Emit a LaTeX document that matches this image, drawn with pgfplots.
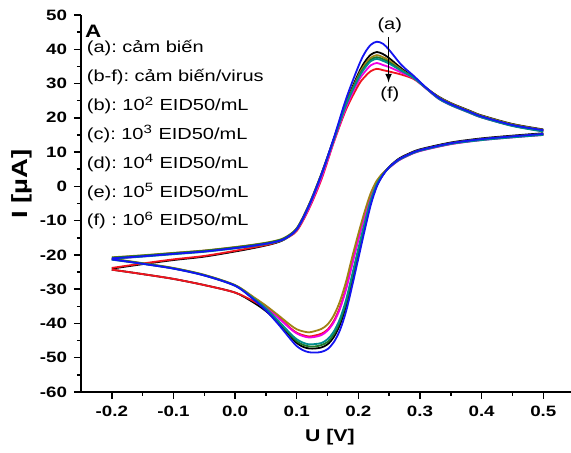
\documentclass[border=0pt]{standalone}
\usepackage{fontspec}
\setmainfont{Liberation Sans}[FakeStretch=1.25]
\usepackage{pgfplots}
\usepackage{pgfplotstable}
\pgfplotsset{compat=1.18}
\frenchspacing

\definecolor{cvblk}{RGB}{0,0,0}
\definecolor{cvblu}{RGB}{20,20,240}
\definecolor{cvolv}{RGB}{160,130,20}
\definecolor{cvgrn}{RGB}{30,120,40}
\definecolor{cvtea}{RGB}{0,140,140}
\definecolor{cvmag}{RGB}{240,0,230}
\definecolor{cvred}{RGB}{240,20,30}

% forward scan (-0.2 -> 0.5)
\pgfplotstableread{
x     blk    blu    olv    grn    tea    mag    red
-0.20 -24.0  -21.0  -20.7  -20.8  -21.1  -21.2  -23.8
-0.15 -22.7  -20.4  -20.1  -20.2  -20.5  -20.4  -22.5
-0.10 -21.5  -19.7  -19.4  -19.5  -19.8  -19.5  -21.3
-0.05 -20.5  -19.0  -18.7  -18.8  -19.1  -18.8  -20.3
0.00  -19.0  -18.0  -17.7  -17.8  -18.1  -17.8  -18.8
0.03  -18.0  -17.3  -17.0  -17.1  -17.4  -17.1  -17.8
0.06  -16.8  -16.4  -16.1  -16.2  -16.5  -16.3  -16.7
0.08  -15.5  -15.3  -15.0  -15.1  -15.4  -15.3  -15.4
0.10  -12.5  -12.5  -12.2  -12.3  -12.6  -12.7  -13.0
0.12  -5.5   -5.5   -5.2   -5.4   -5.7   -6.2   -6.5
0.14  3.5    3.5    3.7    3.5    3.3    2.5    2.0
0.16  13.8   14.0   13.7   13.6   13.6   13.0   12.8
0.18  24.4   25.5   24.1   23.9   23.8   23.0   22.4
0.20  32.9   35.0   32.3   31.9   31.5   30.7   29.5
0.21  36.2   38.8   35.4   34.8   34.4   33.3   31.9
0.22  38.4   41.3   37.5   36.9   36.5   35.3   33.6
0.23  39.2   42.2   38.3   37.7   37.2   36.0   34.3
0.24  38.6   41.6   37.7   37.1   36.6   35.4   33.9
0.25  37.4   39.8   36.7   36.2   35.8   34.8   33.5
0.27  34.4   35.4   34.0   33.8   33.7   33.2   32.6
0.29  31.8   32.2   31.7   31.7   31.6   31.5   31.3
0.31  28.7   28.8   28.7   28.7   28.6   28.5   28.6
0.33  26.2   25.9   26.1   25.9   25.6   25.6   25.7
0.35  24.3   24.0   24.2   24.0   23.7   23.7   23.8
0.38  22.1   21.8   22.0   21.8   21.5   21.5   21.6
0.40  20.7   20.4   20.6   20.4   20.1   20.1   20.2
0.45  18.2   17.9   18.1   17.9   17.6   17.7   17.7
0.50  16.6   16.4   16.5   16.3   16.0   16.1   16.2
}\fwd

% reverse scan (0.5 -> -0.2)
\pgfplotstableread{
x     blk    blu    olv    grn    tea    mag    red
0.50  15.5   15.3   15.3   15.2   15.0   15.0   15.1
0.45  14.8   14.6   14.6   14.5   14.3   14.3   14.4
0.40  14.0   13.8   13.8   13.7   13.5   13.5   13.6
0.35  12.8   12.6   12.6   12.5   12.4   12.3   12.4
0.30  10.8   10.6   10.6   10.5   10.4   10.3   10.4
0.28  9.4    9.2    9.2    9.1    9.0    8.9    9.0
0.265 8.0    7.8    7.8    7.7    7.6    7.5    7.6
0.25  5.7    5.6    5.6    5.6    5.5    5.4    5.5
0.24  3.4    3.3    3.9    3.5    3.5    3.7    3.8
0.23  0.3    0.0    1.7    0.5    0.7    1.3    1.4
0.22  -4.8   -5.5   -2.0   -4.5   -4.1   -2.9   -2.7
0.21  -12.0  -13.0  -7.5   -11.4  -10.8  -8.9   -8.6
0.20  -19.6  -21.0  -13.8  -18.9  -18.1  -15.6  -15.3
0.19  -27.4  -29.0  -20.6  -26.5  -25.7  -22.8  -22.3
0.18  -34.9  -36.5  -27.8  -34.0  -33.1  -30.1  -29.6
0.17  -40.4  -42.0  -33.6  -39.5  -38.7  -35.8  -35.3
0.16  -44.0  -45.5  -37.7  -43.2  -42.4  -39.7  -39.3
0.15  -46.1  -47.5  -40.3  -45.4  -44.6  -42.1  -41.8
0.14  -47.0  -48.3  -41.6  -46.3  -45.7  -43.4  -43.0
0.13  -47.3  -48.5  -42.2  -46.7  -46.0  -43.9  -43.5
0.12  -47.3  -48.4  -42.6  -46.7  -46.1  -44.1  -43.8
0.11  -46.8  -47.8  -42.3  -46.2  -45.6  -43.7  -43.4
0.10  -45.7  -46.6  -41.7  -45.2  -44.6  -42.9  -42.7
0.09  -43.8  -44.6  -40.5  -43.4  -43.0  -41.6  -41.4
0.07  -39.7  -40.2  -37.6  -39.4  -39.2  -38.3  -38.1
0.05  -36.4  -36.2  -34.8  -35.8  -35.6  -35.1  -35.6
0.03  -33.9  -33.0  -32.3  -32.8  -32.7  -32.5  -33.5
0.00  -31.0  -29.0  -28.8  -28.9  -29.0  -28.9  -31.0
-0.05 -28.8  -26.0  -25.8  -25.9  -26.0  -25.9  -28.8
-0.10 -27.0  -24.0  -23.8  -23.9  -24.0  -23.9  -27.0
-0.15 -25.6  -22.6  -22.4  -22.5  -22.6  -22.5  -25.6
-0.20 -24.3  -21.3  -21.1  -21.2  -21.4  -21.2  -24.3
}\rev

\begin{document}
\begin{tikzpicture}
\begin{axis}[
  at={(0,0)}, anchor=south west,
  scale only axis,
  width=245pt, height=188.5pt,
  xmin=-0.25, xmax=0.545,
  ymin=-60, ymax=50,
  axis x line*=bottom, axis y line*=left,
  axis line style={line width=0.75pt},
  xtick={-0.2,-0.1,0,0.1,0.2,0.3,0.4,0.5},
  ytick={-60,-50,-40,-30,-20,-10,0,10,20,30,40,50},
  minor x tick num=1, minor y tick num=1,
  tick align=outside,
  major tick length=3.5pt, minor tick length=2pt,
  every tick/.style={black, line width=0.75pt},
  /pgf/number format/assume math mode=true,
  xticklabel style={/pgf/number format/.cd, fixed, fixed zerofill, precision=1},
  yticklabel style={/pgf/number format/.cd, fixed, precision=0},
  ticklabel style={font=\bfseries\fontsize{7.5}{9}\selectfont},
  xlabel={U [V]}, ylabel={I [µA]},
  xlabel style={font=\bfseries\fontsize{8.5}{10}\selectfont, at={(axis description cs:0.508,-0.119)}, anchor=center},
  ylabel style={font=\bfseries\fontsize{11}{12}\selectfont, at={(axis description cs:-0.120,0.552)}, anchor=center},
  every axis plot/.append style={line width=0.9pt, smooth, tension=0.5, no marks},
]
\addplot[cvblk] table[x=x, y=blk] {\fwd};
\addplot[cvblk] table[x=x, y=blk] {\rev};
\addplot[cvred] table[x=x, y=red] {\fwd};
\addplot[cvred] table[x=x, y=red] {\rev};
\addplot[cvmag] table[x=x, y=mag] {\fwd};
\addplot[cvmag] table[x=x, y=mag] {\rev};
\addplot[cvolv] table[x=x, y=olv] {\fwd};
\addplot[cvolv] table[x=x, y=olv] {\rev};
\addplot[cvgrn] table[x=x, y=grn] {\fwd};
\addplot[cvgrn] table[x=x, y=grn] {\rev};
\addplot[cvtea] table[x=x, y=tea] {\fwd};
\addplot[cvtea] table[x=x, y=tea] {\rev};
\addplot[cvblu] table[x=x, y=blu] {\fwd};
\addplot[cvblu] table[x=x, y=blu] {\rev};

\node[anchor=center, font=\bfseries\fontsize{9}{10}\selectfont] at (axis cs:-0.230,45.3) {A};
\begin{scope}[every node/.style={anchor=west, inner sep=0pt, font=\fontsize{8}{9}\selectfont}]
\node at (axis cs:-0.241,40.4) {(a): cảm biến};
\node at (axis cs:-0.241,32.0) {(b-f): cảm biến/virus};
\node at (axis cs:-0.241,23.6) {(b): 10\textsuperscript{2} EID50/mL};
\node at (axis cs:-0.241,15.2) {(c): 10\textsuperscript{3} EID50/mL};
\node at (axis cs:-0.241,6.8) {(d): 10\textsuperscript{4} EID50/mL};
\node at (axis cs:-0.241,-1.6) {(e): 10\textsuperscript{5} EID50/mL};
\node at (axis cs:-0.241,-10.0) {(f) : 10\textsuperscript{6} EID50/mL};
\end{scope}
\node[font=\fontsize{8}{9}\selectfont] at (axis cs:0.251,47.1) {(a)};
\node[font=\fontsize{8}{9}\selectfont] at (axis cs:0.251,26.7) {(f)};
\draw[-latex, line width=0.5pt] (axis cs:0.249,43.5) -- (axis cs:0.249,30.3);
\end{axis}
\pgfresetboundingbox
\path (-40.5pt,-30.5pt) rectangle (245pt,196pt);
\end{tikzpicture}
\end{document}
